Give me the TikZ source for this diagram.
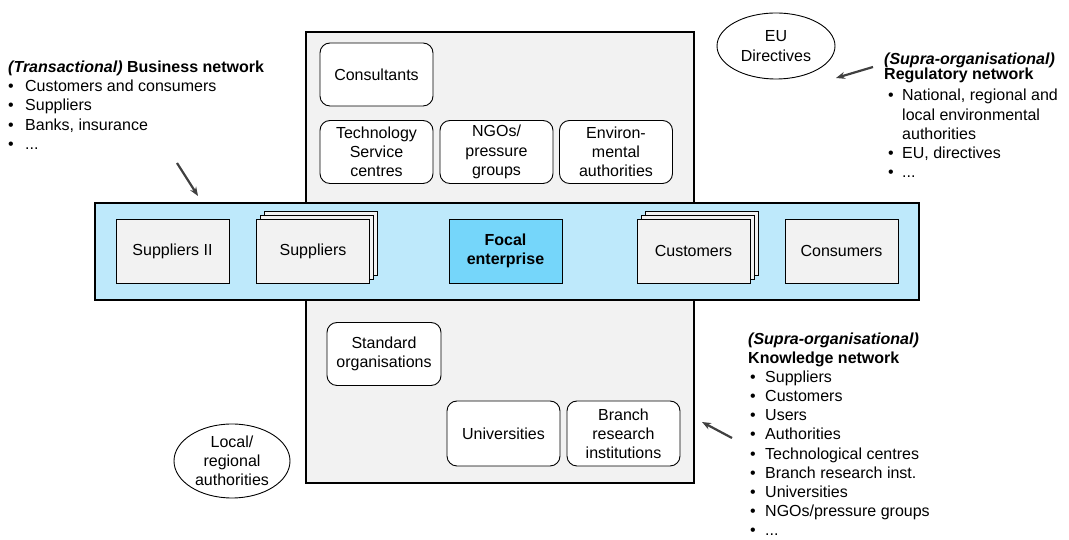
\documentclass[tikz,border=0pt]{standalone}
\usepackage{fontspec}
\setmainfont{Liberation Sans}
\usetikzlibrary{positioning, shapes, arrows.meta}

\definecolor{boxgrey}{RGB}{242,242,242}
\definecolor{bandblue}{RGB}{190,233,251}
\definecolor{focalblue}{RGB}{117,214,250}
\definecolor{arrowgrey}{RGB}{64,64,64}
\newcommand{\bul}[2]{\hspace*{#1}\makebox[#2][l]{\textbullet}}

\begin{document}
\begin{tikzpicture}[x=1pt, y=1pt, font=\fontsize{16pt}{19.2pt}\selectfont]
    \tikzstyle{card} = [rectangle, draw, line width=0.9pt, fill=boxgrey, minimum width=113, minimum height=64, align=center, inner sep=0]
    \tikzstyle{actor} = [rectangle, rounded corners=10, draw, line width=0.9pt, fill=white, minimum width=113, minimum height=63, align=center, inner sep=0]
    \tikzstyle{cloud} = [ellipse, draw, line width=0.9pt, fill=white, align=center, inner sep=0]
    \tikzstyle{ann} = [draw=none, fill=none, anchor=base west, align=left, inner sep=0]
    \tikzstyle{pointer} = [-{Stealth[length=9pt, width=7pt]}, line width=2.2pt, draw=arrowgrey]
    \useasboundingbox (0,0) rectangle (1069,540);

    % institutional frame and value chain band
    \node[rectangle, draw, line width=1.3pt, fill=boxgrey, minimum width=388, minimum height=451] (frame) at (500,282.5) {};
    \node[rectangle, draw, line width=1.3pt, fill=bandblue, minimum width=824, minimum height=97] (chain) at (507,288.5) {};

    % value chain
    \node[card] (supII) at (172.5,289) {Suppliers II};
    \node[card] (supC) at (321,297) {};
    \node[card] (supB) at (317,293) {};
    \node[card] (sup) at (313,289) {Suppliers};
    \node[card, fill=focalblue, font=\fontsize{16pt}{19.2pt}\selectfont\bfseries] (focal) at (505.5,289) {Focal\\enterprise};
    \node[card] (cusC) at (701.5,297) {};
    \node[card] (cusB) at (697.5,293) {};
    \node[card] (cus) at (693.5,289) {Customers};
    \node[card] (con) at (841.5,289) {Consumers};

    % supporting actors
    \node[actor] (consult) at (376.5,465.5) {Consultants};
    \node[actor] (techserv) at (376.5,388) {Technology\\Service\\centres};
    \node[actor] (ngo) at (496.5,388) {NGOs/\\pressure\\groups};
    \node[actor] (envauth) at (616,388) {Environ-\\mental\\authorities};
    \node[actor, minimum width=114] (standard) at (384,186) {Standard\\organisations};
    \node[actor, minimum height=65] (univ) at (503.5,106.5) {Universities};
    \node[actor, minimum height=65] (branch) at (623.5,106.5) {Branch\\research\\institutions};

    \node[cloud, minimum width=118, minimum height=66] (eudir) at (776,494) {EU\\Directives};
    \node[cloud, minimum width=116, minimum height=74] (localauth) at (232,79) {Local/\\regional\\authorities};

    % network descriptions (anchored on the baseline of their last line)
    \node[ann] (business) at (8,390.7) {\textbf{\textit{(Transactional)} Business network}\\
        \bul{0pt}{17pt}Customers and consumers\\
        \bul{0pt}{17pt}Suppliers\\
        \bul{0pt}{17pt}Banks, insurance\\
        \bul{0pt}{17pt}...};
    \node[ann] (regulatory) at (884,362.2) {\textbf{\textit{(Supra-organisational)}}\\[-4pt]
        \textbf{Regulatory network}\\[2pt]
        \bul{4pt}{14pt}National, regional and\\
        \hspace*{18pt}local environmental\\
        \hspace*{18pt}authorities\\
        \bul{4pt}{14pt}EU, directives\\
        \bul{4pt}{14pt}...};
    \node[ann] (knowledge) at (748,4) {\textbf{\textit{(Supra-organisational)}}\\[-1pt]
        \textbf{Knowledge network}\\
        \bul{2pt}{15pt}Suppliers\\
        \bul{2pt}{15pt}Customers\\
        \bul{2pt}{15pt}Users\\
        \bul{2pt}{15pt}Authorities\\
        \bul{2pt}{15pt}Technological centres\\
        \bul{2pt}{15pt}Branch research inst.\\
        \bul{2pt}{15pt}Universities\\
        \bul{2pt}{15pt}NGOs/pressure groups\\
        \bul{2pt}{15pt}...};

    % pointers
    \coordinate (bizfrom) at (177,377);
    \coordinate (bizto) at (198,344);
    \coordinate (regfrom) at (873,473);
    \coordinate (regto) at (836,462);
    \coordinate (knowfrom) at (732,102);
    \coordinate (knowto) at (702,118);
    \draw[pointer] (bizfrom) -- (bizto);
    \draw[pointer] (regfrom) -- (regto);
    \draw[pointer] (knowfrom) -- (knowto);
\end{tikzpicture}
\end{document}
